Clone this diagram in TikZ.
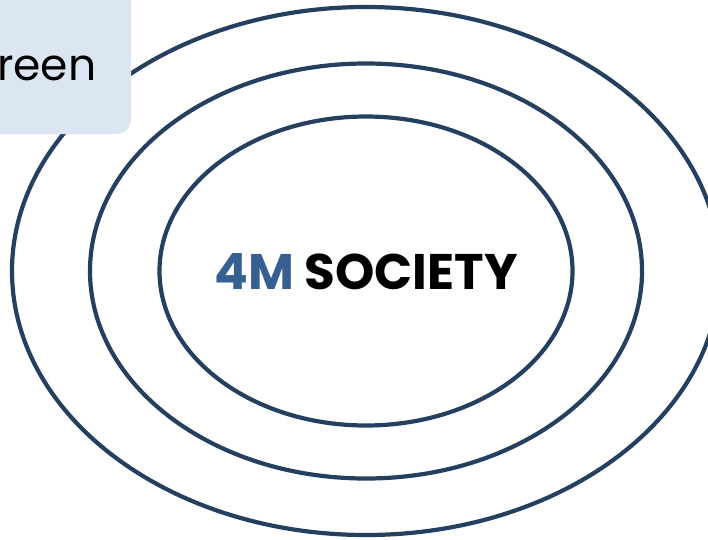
\documentclass[tikz,border=0pt]{standalone}
\usepackage{fontspec}
\setmainfont{Poppins}
\usepackage{tikz}

\definecolor{ringblue}{RGB}{36,63,96}
\definecolor{fourm}{RGB}{55,96,146}
\definecolor{boxfill}{RGB}{220,230,242}

\tikzset{ring/.style={draw=ringblue, line width=4.2pt}}

\begin{document}
\begin{tikzpicture}[x=1pt,y=-1pt]

\clip (0,0) rectangle (708,539);

\coordinate (c) at (366,271);

\draw[ring] (c) ellipse [x radius=354pt, y radius=264pt];
\draw[ring] (c) ellipse [x radius=276pt, y radius=207.5pt];
\draw[ring] (c) ellipse [x radius=206.5pt, y radius=154.5pt];

\node (society) at (366,272) {\fontsize{50}{60}\selectfont\bfseries\textcolor{fourm}{4M} SOCIETY};

\fill[boxfill, rounded corners=15pt] (-30,-30) rectangle (131,134);
\node[anchor=base west, inner sep=0pt] (label) at (-3,80) {\fontsize{44}{52}\selectfont reen};

\end{tikzpicture}
\end{document}
